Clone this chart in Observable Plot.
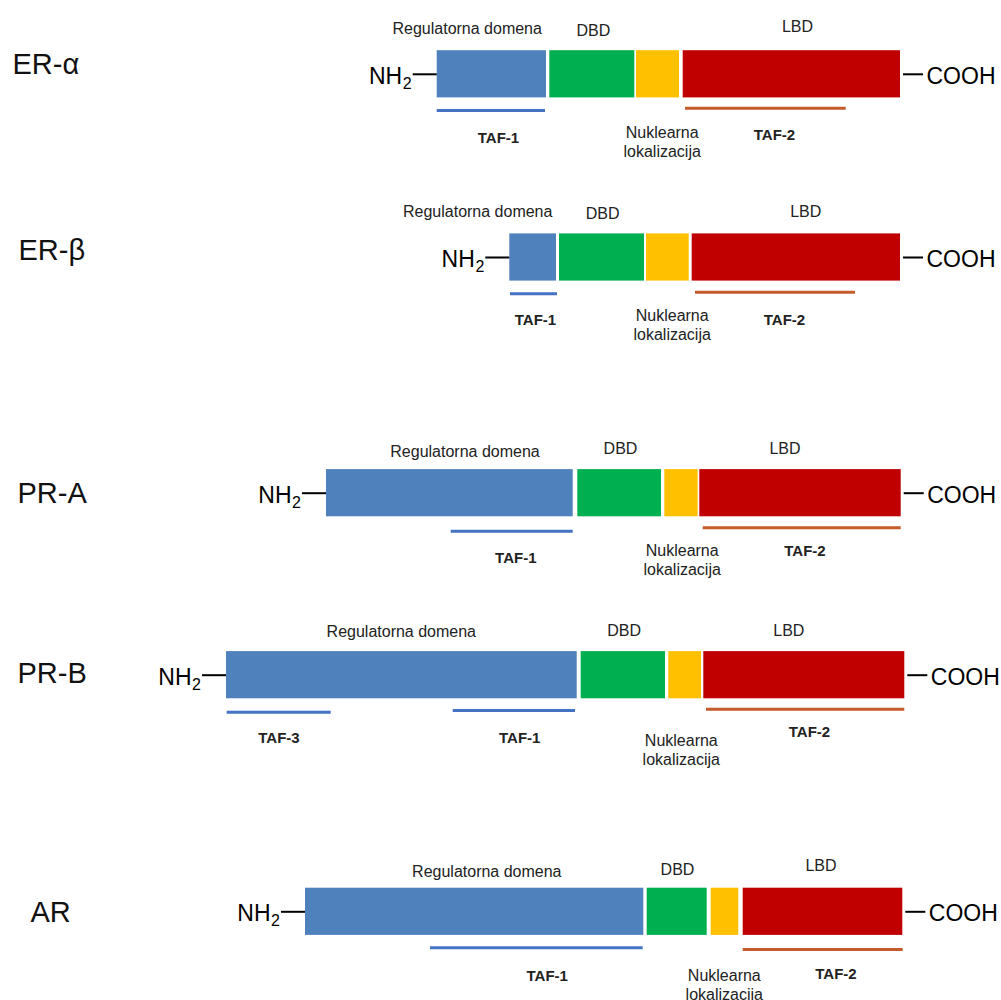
<!DOCTYPE html>
<html><head><meta charset="utf-8">
<script src="https://cdn.jsdelivr.net/npm/d3@7"></script>
<script src="https://cdn.jsdelivr.net/npm/@observablehq/plot@0.6"></script>
<style>html,body{margin:0;padding:0;background:#fff;overflow:hidden}</style>
</head><body><div id="chart"></div>
<script>
// ---- data (diagram units) ----
const proteins = ["ER-α", "ER-β", "PR-A", "PR-B", "AR"];
const rowY   = [73.8, 257, 492.7, 674.7, 911.3];
const nameX  = [12, 18, 17, 17, 30];
const nameY  = [64, 250, 493, 673, 912];

const domainNames = ["Regulatorna domena", "DBD", "Nuklearna lokalizacija", "LBD"];
const regStart = [436.7, 509.3, 326.0, 226.0, 305.0];
const regEnd   = [546.0, 556.0, 572.7, 576.7, 643.3];
const dbdStart = [549.3, 559.0, 577.3, 580.7, 646.7];
const dbdEnd   = [634.3, 644.0, 661.0, 665.0, 706.7];
const nlsStart = [636.0, 646.0, 664.3, 668.3, 710.7];
const nlsEnd   = [679.0, 688.7, 697.7, 701.0, 738.3];
const lbdStart = [682.7, 691.7, 699.3, 703.3, 742.7];
const lbdEnd   = [900.0, 900.0, 900.7, 904.3, 902.3];

const regLabelX = [466.7, 477.2, 464.5, 400.8, 486.3];
const regLabelY = [27.2, 210.8, 450.5, 630.5, 870.5];
const dbdLabelX = [592.8, 602.2, 620.0, 623.7, 677.0];
const dbdLabelY = [29.0, 212.5, 447.2, 629.5, 868.0];
const lbdLabelX = [797.0, 805.2, 784.5, 788.3, 820.5];
const lbdLabelY = [25.8, 210.5, 447.0, 629.0, 864.7];
const nlsLabelX = [661.7, 671.7, 681.7, 680.8, 723.8];
const nlsLabelY = [140.5, 324.0, 558.5, 748.5, 983.5];

const tafProtein = ["ER-α", "ER-α", "ER-β", "ER-β", "PR-A", "PR-A", "PR-B", "PR-B", "PR-B", "AR", "AR"];
const tafName    = ["TAF-1", "TAF-2", "TAF-1", "TAF-2", "TAF-1", "TAF-2", "TAF-3", "TAF-1", "TAF-2", "TAF-1", "TAF-2"];
const tafStart   = [436.7, 685.0, 510.0, 695.0, 450.7, 702.7, 226.7, 452.7, 706.0, 430.0, 742.7];
const tafEnd     = [545.0, 845.7, 557.0, 855.0, 572.7, 900.7, 330.7, 575.0, 904.3, 642.7, 902.7];
const tafLineY   = [110.0, 107.7, 293.3, 291.7, 530.7, 527.3, 711.7, 710.0, 708.7, 947.3, 949.0];
const tafLabelX  = [498.0, 774.0, 535.0, 784.0, 515.3, 804.5, 278.5, 519.2, 809.0, 546.7, 835.5];
const tafLabelY  = [137.5, 135.0, 320.0, 319.5, 557.5, 551.0, 738.0, 738.0, 731.3, 975.8, 974.0];

// ---- styles ----
const domainColors = ["#4F81BD", "#00B050", "#FFC000", "#C00000"];
const tafColors = {"TAF-1": "#4472C4", "TAF-2": "#C55A2B", "TAF-3": "#4472C4"};
const BOX_HALF = 23.6;
const NH_LEN = 24;
const FONT = "'Liberation Sans', Arial, sans-serif";

// ---- tables ----
const rows = proteins.map((p, i) => ({
  protein: p, y: rowY[i], nameX: nameX[i], nameY: nameY[i],
  regStart: regStart[i], lbdEnd: lbdEnd[i]
}));
const starts = [regStart, dbdStart, nlsStart, lbdStart];
const ends = [regEnd, dbdEnd, nlsEnd, lbdEnd];
const domains = proteins.flatMap((p, i) => domainNames.map((dn, k) => ({
  protein: p, domain: dn, x1: starts[k][i], x2: ends[k][i], y: rowY[i], color: domainColors[k]
})));
const labX = [regLabelX, dbdLabelX, nlsLabelX, lbdLabelX];
const labY = [regLabelY, dbdLabelY, nlsLabelY, lbdLabelY];
const labText = ["Regulatorna domena", "DBD", "Nuklearna\nlokalizacija", "LBD"];
const domainLabels = proteins.flatMap((p, i) => labText.map((t, k) => ({
  protein: p, text: t, x: labX[k][i], y: labY[k][i]
})));
const tafs = tafName.map((n, j) => ({
  protein: tafProtein[j], name: n, x1: tafStart[j], x2: tafEnd[j],
  y: tafLineY[j], lx: tafLabelX[j], ly: tafLabelY[j]
}));

const chart = Plot.plot({
  width: 1001, height: 1000,
  marginTop: 0, marginRight: 0, marginBottom: 0, marginLeft: 0,
  x: {domain: [0, 1001], range: [0, 1001], axis: null},
  y: {domain: [0, 1000], range: [0, 1000], axis: null},
  color: {type: "identity"},
  style: {fontFamily: FONT, background: "white", color: "black", overflow: "visible"},
  marks: [
    Plot.rect(domains, {x1: "x1", x2: "x2", y1: d => d.y - BOX_HALF, y2: d => d.y + BOX_HALF, fill: "color"}),
    Plot.ruleY(rows, {y: "y", x1: d => d.regStart - NH_LEN, x2: "regStart", stroke: "black", strokeWidth: 2}),
    Plot.ruleY(rows, {y: "y", x1: d => d.lbdEnd + 3, x2: d => d.lbdEnd + 23, stroke: "black", strokeWidth: 2}),
    Plot.text(rows, {x: d => d.regStart - NH_LEN - 11, y: "y", text: () => "NH", textAnchor: "end", fontSize: 23, dy: 2, fill: "black"}),
    Plot.text(rows, {x: d => d.regStart - NH_LEN - 1.5, y: "y", text: () => "2", textAnchor: "end", fontSize: 16, dy: 9.4, fill: "black"}),
    Plot.text(rows, {x: d => d.lbdEnd + 26, y: "y", text: () => "COOH", textAnchor: "start", fontSize: 23, dy: 2, fill: "black"}),
    Plot.text(rows, {x: "nameX", y: "nameY", text: "protein", textAnchor: "start", fontSize: 29, fill: "#111"}),
    Plot.text(domainLabels, {x: "x", y: "y", text: "text", fontSize: 16, lineHeight: 1.2, fill: "#222"}),
    Plot.ruleY(tafs, {y: "y", x1: "x1", x2: "x2", stroke: d => tafColors[d.name], strokeWidth: 3}),
    Plot.text(tafs, {x: "lx", y: "ly", text: "name", fontSize: 15, fontWeight: "bold", fill: "#222"})
  ]
});
document.getElementById("chart").appendChild(chart);
</script>
</body></html>
